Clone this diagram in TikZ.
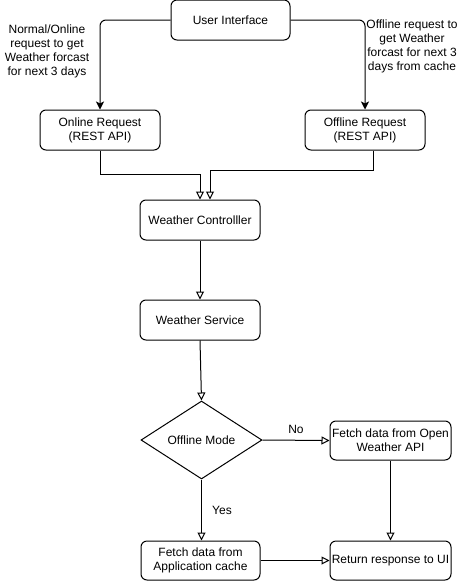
\documentclass[tikz,border=0pt]{standalone}
\usepackage{fontspec}
\setmainfont{Liberation Sans}
\usetikzlibrary{arrows.meta,calc,shapes.geometric}
\begin{document}
\begin{tikzpicture}[x=1pt,y=-1pt,
  every node/.style={font=\fontsize{12}{14}\selectfont, text=black},
  box/.style={draw, rounded corners=6pt, line width=1pt, align=center, inner sep=0pt},
  dec/.style={draw, diamond, aspect=1.55, line width=1pt, inner sep=0pt, minimum width=121pt, minimum height=78pt},
  lbl/.style={align=center, inner sep=0pt},
  conn/.style={line width=1pt, -{Triangle[open, length=8pt, width=8pt]}},
  fconn/.style={line width=1pt, rounded corners=6pt, -{Stealth[length=8pt, width=8pt, inset=2pt]}}
]
\useasboundingbox (0,0) rectangle (461,581);
\node[box, minimum width=119pt, minimum height=40pt] (ui) at (230.5,20) {User Interface};
\node[box, minimum width=120pt, minimum height=40pt] (on) at (100,130) {Online Request\\(REST API)};
\node[box, minimum width=120pt, minimum height=40pt] (off) at (365,130) {Offline Request\\(REST API)};
\node[box, minimum width=120pt, minimum height=40pt] (wc) at (200,220) {Weather Controlller};
\node[box, minimum width=120pt, minimum height=40pt] (ws) at (200,320) {Weather Service};
\node[dec] (om) at (201.5,440) {Offline Mode};
\node[box, minimum width=121pt, minimum height=39pt] (fo) at (390.5,440.5) {Fetch data from Open\\Weather API};
\node[box, minimum width=119pt, minimum height=39pt] (fa) at (200.5,560.5) {Fetch data from\\Application cache};
\node[box, minimum width=121pt, minimum height=39pt] (rr) at (390.5,560.5) {Return response to UI};

\node[lbl] (ll) at (47,51) {Normal/Online\\request to get\\Weather forcast\\for next 3 days};
\node[lbl] (rl) at (412,46) {Offline request to\\get Weather\\forcast for next 3\\days from cache};

\draw[fconn] (ui.west) -| (on.north);
\draw[fconn] (ui.east) -| (off.north);

\coordinate (wcl) at (wc.north);
\coordinate (wcr) at ($(wc.north)+(10,0)$);
\coordinate (offs) at ($(off.south)+(8,0)$);
\draw[conn] (on.south) -- ++(0,24) -| (wcl);
\draw[conn] (offs) -- ++(0,20) -| (wcr);
\draw[conn] (wc.south) -- (ws.north);
\draw[conn] (ws.south) -- (om.north);
\draw[conn] (om.east) -- node[pos=0.5, above=3pt] (no) {No} (fo.west);
\draw[conn] (om.south) -- (om.south |- fa.north);
\node (yes) at (222,510) {Yes};
\draw[conn] (fo.south) -- (rr.north);
\draw[conn] (fa.east) -- (rr.west);
\end{tikzpicture}
\end{document}
